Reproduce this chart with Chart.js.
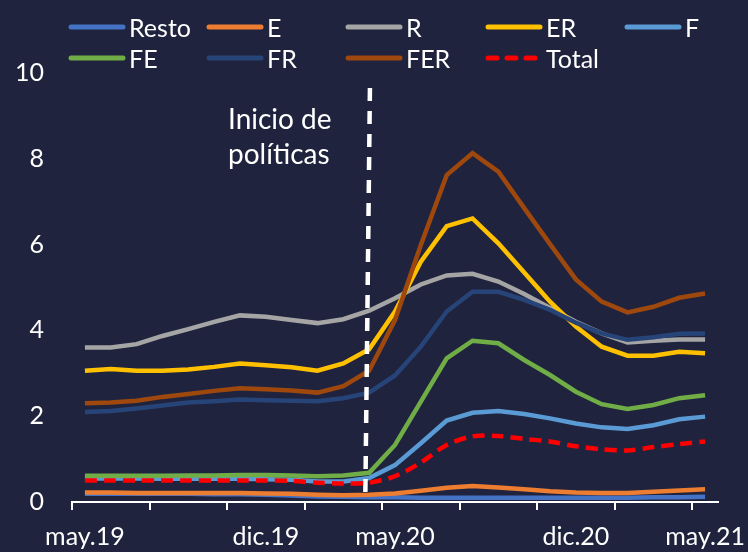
<!DOCTYPE html>
<html lang="es">
<head>
<meta charset="UTF-8">
<script src="https://cdn.jsdelivr.net/npm/chart.js"></script>
<title>Índices</title>
<style>
    body { margin: 0; background: #1f233d; }
    #wrap { position: relative; width: 748px; height: 552px; }
    #legend .item { position: absolute; display: flex; align-items: center; height: 30px;
                    color: #fff; font: 25px Lato, sans-serif; white-space: nowrap; }
    #legend svg { margin-right: 3px; }
</style>
</head>
<body>
<div id="wrap">
    <canvas id="myChart" width="748" height="552"></canvas>
    <div id="legend"></div>
</div>
<script>
// meses may.19 - may.21
const months = ['may.19','jun.19','jul.19','ago.19','sep.19','oct.19','nov.19','dic.19',
                'ene.20','feb.20','mar.20','abr.20','may.20','jun.20','jul.20','ago.20',
                'sep.20','oct.20','nov.20','dic.20','ene.21','feb.21','mar.21','abr.21','may.21'];
const shownLabels = ['may.19','dic.19','may.20','dic.20','may.21'];
const yTicks = [0, 2, 4, 6, 8, 10];

const resto = [0.19,0.19,0.19,0.19,0.19,0.18,0.18,0.17,0.15,0.13,0.12,0.11,0.11,0.1,0.1,0.1,0.1,0.1,0.1,0.1,0.1,0.1,0.11,0.11,0.12];
const serieE = [0.22,0.22,0.21,0.21,0.21,0.21,0.21,0.2,0.19,0.17,0.16,0.17,0.2,0.26,0.33,0.37,0.34,0.3,0.25,0.22,0.21,0.21,0.24,0.27,0.3];
const serieR = [3.6,3.6,3.68,3.87,4.03,4.2,4.35,4.32,4.24,4.17,4.26,4.46,4.75,5.07,5.28,5.32,5.14,4.85,4.52,4.2,3.93,3.72,3.76,3.79,3.79];
const serieER = [3.06,3.1,3.06,3.06,3.09,3.15,3.23,3.19,3.14,3.06,3.23,3.56,4.44,5.6,6.43,6.61,6.03,5.35,4.67,4.09,3.62,3.41,3.41,3.5,3.47];
const serieF = [0.55,0.55,0.55,0.54,0.54,0.54,0.54,0.53,0.52,0.48,0.48,0.56,0.86,1.37,1.9,2.08,2.12,2.05,1.95,1.83,1.74,1.7,1.79,1.93,1.99];
const serieFE = [0.61,0.61,0.61,0.61,0.62,0.62,0.63,0.63,0.62,0.6,0.62,0.68,1.33,2.34,3.35,3.76,3.7,3.31,2.96,2.57,2.28,2.17,2.26,2.42,2.49];
const serieFR = [2.1,2.12,2.18,2.25,2.32,2.35,2.39,2.37,2.36,2.35,2.42,2.55,2.95,3.62,4.44,4.9,4.9,4.71,4.48,4.18,3.93,3.78,3.84,3.92,3.93];
const serieFER = [2.3,2.32,2.36,2.45,2.52,2.59,2.65,2.63,2.6,2.55,2.7,3.06,4.24,5.99,7.62,8.13,7.7,6.85,6.01,5.19,4.67,4.42,4.55,4.76,4.86];
const total = [0.5,0.5,0.5,0.5,0.5,0.5,0.5,0.5,0.49,0.45,0.43,0.45,0.6,0.92,1.33,1.53,1.54,1.47,1.41,1.3,1.23,1.2,1.28,1.35,1.41];

const names = ['Resto','E','R','ER','F','FE','FR','FER','Total'];
const values = [resto, serieE, serieR, serieER, serieF, serieFE, serieFR, serieFER, total];
const colors = ['#4472c4','#ed7d31','#a5a5a5','#ffc000','#5b9bd5','#70ad47','#264478','#9e480e','#ff0000'];

// linea de inicio de politicas (entre mar.20 y abr.20)
const policyX = [11.03, 10.85];
const policyY = [9.65, 0.05];

const FONT = 'Lato, sans-serif';
const boundaryTicks = [];
for (let v = -0.5; v < months.length - 1; v += 3) boundaryTicks.push(v);
const labelTicks = shownLabels.map(l => months.indexOf(l));

const datasets = names.map((n, i) => ({
    label: n,
    data: values[i].map((v, j) => ({x: j, y: v})),
    borderColor: colors[i],
    backgroundColor: colors[i],
    borderWidth: 4.5,
    borderDash: n === 'Total' ? [12, 7] : [],
    tension: n === 'Total' ? 0.3 : 0,
    pointRadius: 0,
    order: names.length - i
}));

const policyPlugin = {
    id: 'policyPlugin',
    afterDatasetsDraw(chart) {
        const {ctx, scales: {x, y}} = chart;
        ctx.save();
        ctx.strokeStyle = '#ffffff';
        ctx.lineWidth = 4.5;
        ctx.setLineDash([13, 10]);
        ctx.beginPath();
        ctx.moveTo(x.getPixelForValue(policyX[0]), y.getPixelForValue(policyY[0]));
        ctx.lineTo(x.getPixelForValue(policyX[1]), y.getPixelForValue(policyY[1]));
        ctx.stroke();
        ctx.setLineDash([]);
        ctx.fillStyle = '#ffffff';
        ctx.font = '28px ' + FONT;
        ctx.textAlign = 'left';
        ctx.textBaseline = 'alphabetic';
        ctx.fillText('Inicio de', 228, 129);
        ctx.fillText('políticas', 228, 164);
        ctx.restore();
    }
};

const ctx = document.getElementById('myChart');
const myChart = new Chart(ctx, {
    type: 'line',
    data: { datasets: datasets },
    plugins: [policyPlugin],
    options: {
        responsive: false,
        animation: false,
        layout: { padding: { top: 73, right: 30, left: 0, bottom: 0 } },
        plugins: { legend: { display: false }, tooltip: { enabled: false } },
        scales: {
            x: {
                type: 'linear',
                min: -0.5,
                max: months.length - 0.5,
                afterBuildTicks: (scale) => {
                    scale.ticks = boundaryTicks.concat(labelTicks).sort((a, b) => a - b).map(v => ({value: v}));
                },
                afterFit: (scale) => { scale.height = 50; scale.paddingLeft = 0; scale.paddingRight = 0; },
                ticks: {
                    color: '#ffffff',
                    font: { family: FONT, size: 25 },
                    padding: 12,
                    maxRotation: 0,
                    autoSkip: false,
                    callback: (v) => labelTicks.includes(v) ? months[v] : ''
                },
                grid: {
                    drawOnChartArea: false,
                    drawTicks: true,
                    tickLength: 8,
                    lineWidth: 2,
                    color: (c) => (c.tick && boundaryTicks.includes(c.tick.value)) ? '#ffffff' : 'rgba(0,0,0,0)'
                },
                border: { display: true, color: '#ffffff', width: 2 }
            },
            y: {
                min: 0,
                max: 10,
                afterBuildTicks: (scale) => { scale.ticks = yTicks.map(v => ({value: v})); },
                afterFit: (scale) => { scale.width = 72; },
                ticks: {
                    color: '#ffffff',
                    font: { family: FONT, size: 25 },
                    padding: 28
                },
                grid: { display: false, drawTicks: false },
                border: { display: false }
            }
        }
    }
});

// leyenda en 5 columnas
const legCols = [68, 206, 345, 485, 624];
const legRows = [27, 58];
const legend = document.getElementById('legend');
myChart.data.datasets.forEach((ds, i) => {
    const item = document.createElement('div');
    item.className = 'item';
    item.style.left = legCols[i % 5] + 'px';
    item.style.top = (legRows[Math.floor(i / 5)] - 15) + 'px';
    const dash = ds.borderDash.length ? 'stroke-dasharray="9 10"' : '';
    item.innerHTML = '<svg width="58" height="10"><line x1="3" y1="5" x2="' + (dash ? 52 : 55) + '" y2="5" stroke="' +
        ds.borderColor + '" stroke-width="5" stroke-linecap="round" ' + dash + '/></svg><span>' + ds.label + '</span>';
    legend.appendChild(item);
});
</script>
</body>
</html>
